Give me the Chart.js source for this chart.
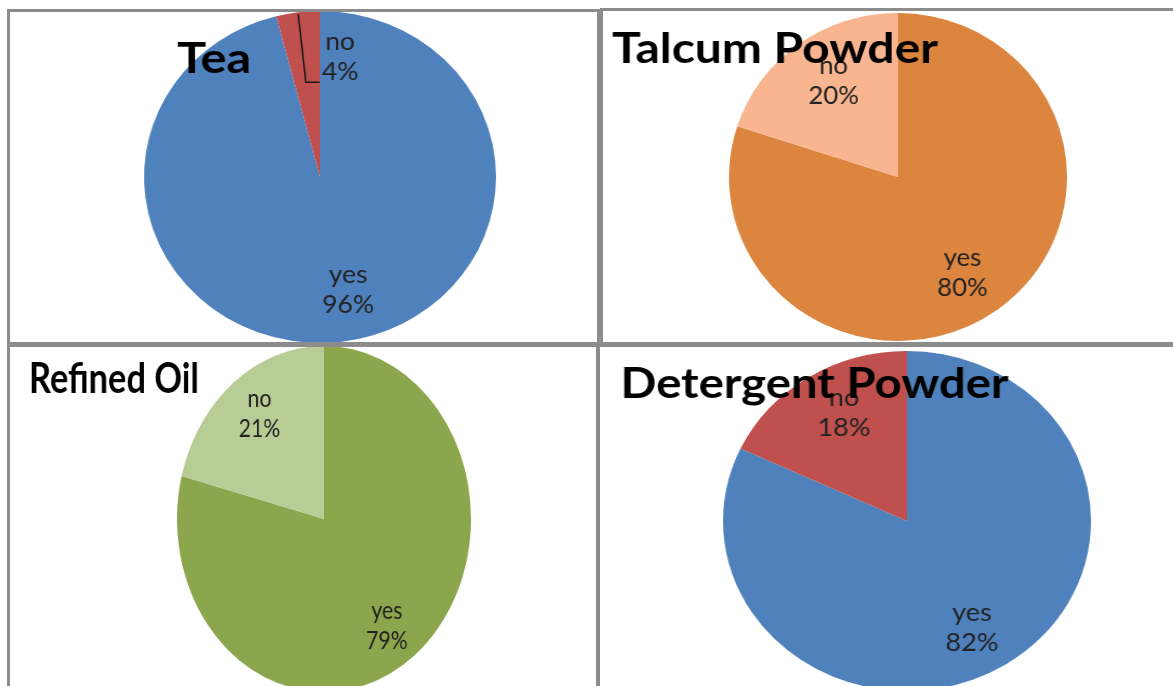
<!DOCTYPE html>
<html>
<head>
<meta charset="utf-8">
<title>Product survey pies</title>
<script src="https://cdn.jsdelivr.net/npm/chart.js@4.4.1/dist/chart.umd.min.js"></script>
<style>
    html, body { margin: 0; padding: 0; background: #fff; overflow: hidden; }
    body { width: 1173px; height: 686px; position: relative; }
    .panel { position: absolute; border: 3px solid #8c8c8c; box-sizing: border-box; z-index: 5; pointer-events: none; }
    .pie { position: absolute; width: 1200px; height: 700px; transform-origin: 600px 350px; }
</style>
</head>
<body>
<div class="panel" style="left:7px;top:9px;width:593px;height:336px"></div>
<div class="panel" style="left:600px;top:8px;width:600px;height:337px"></div>
<div class="panel" style="left:7px;top:344px;width:592px;height:400px"></div>
<div class="panel" style="left:597px;top:344px;width:600px;height:400px"></div>

<canvas id="teaChart" class="pie" width="1200" height="700"></canvas>
<canvas id="talcumChart" class="pie" width="1200" height="700"></canvas>
<canvas id="oilChart" class="pie" width="1200" height="700"></canvas>
<canvas id="detergentChart" class="pie" width="1200" height="700"></canvas>

<script>
// ---- data ----
const answers = ['yes', 'no'];
const teaValues = [96, 4];
const talcumValues = [80, 20];
const oilValues = [79, 21];
const detergentValues = [82, 18];
const productNames = ['Tea', 'Talcum Powder', 'Refined Oil', 'Detergent Powder'];

// labels "yes 96%" etc. and the big panel titles
const pieText = {
    id: 'pieText',
    afterDatasetsDraw(chart, args, opts) {
        const ctx = chart.ctx;
        const arcs = chart.getDatasetMeta(0).data;
        const values = chart.data.datasets[0].data;
        const total = values.reduce((a, b) => a + b, 0);

        ctx.save();
        ctx.font = '25px Lato';
        ctx.fillStyle = '#222';
        ctx.textAlign = 'center';
        ctx.textBaseline = 'middle';
        arcs.forEach((arc, i) => {
            const { x, y, startAngle, endAngle, outerRadius } = arc;
            const mid = (startAngle + endAngle) / 2;
            let ang = mid + ((opts.shift && opts.shift[i]) || 0) * Math.PI / 180;
            let frac = opts.radius;
            const spot = opts.outside && opts.outside.index === i ? opts.outside : null;
            if (spot) {
                ang = spot.angle * Math.PI / 180 - Math.PI / 2;
                frac = spot.radius;
            }
            const lx = x + Math.cos(ang) * outerRadius * frac;
            const ly = y + Math.sin(ang) * outerRadius * frac;
            const name = chart.data.labels[i];
            const pct = Math.round(values[i] / total * 100) + '%';
            ctx.fillText(name, lx, ly - 15);
            ctx.fillText(pct, lx, ly + 15);

            if (spot) {
                // leader line from the thin slice to its label
                const w = Math.max(ctx.measureText(name).width, ctx.measureText(pct).width);
                const left = lx - w / 2;
                ctx.beginPath();
                ctx.moveTo(x + Math.cos(mid) * outerRadius * 0.99, y + Math.sin(mid) * outerRadius * 0.99);
                ctx.lineTo(left - 15, ly + 25);
                ctx.lineTo(left - 2, ly + 25);
                ctx.strokeStyle = '#1a1a1a';
                ctx.lineWidth = 1.5;
                ctx.stroke();
            }
        });

        // title, given in page coordinates
        const t = opts.title;
        const s = opts.stretch;
        ctx.font = 'bold 42px Lato';
        ctx.fillStyle = '#000';
        ctx.textAlign = 'left';
        ctx.textBaseline = 'alphabetic';
        const measured = ctx.measureText(t.text).width;
        const fit = (t.width / s) / measured;
        ctx.translate(600 + (t.x - opts.cx) / s, 350 + (t.y - opts.cy));
        ctx.scale(fit, 1);
        ctx.fillText(t.text, 0, 0);
        ctx.restore();
    }
};

function makePie(id, values, colors, geo, title, extra) {
    const canvas = document.getElementById(id);
    const stretch = geo.rx / geo.ry;
    canvas.style.left = (geo.cx - 600) + 'px';
    canvas.style.top = (geo.cy - 350) + 'px';
    canvas.style.transform = 'scaleX(' + stretch + ')';

    const padX = 600 - geo.ry;
    const padY = 350 - geo.ry;

    return new Chart(canvas.getContext('2d'), {
        type: 'pie',
        data: {
            labels: answers,
            datasets: [{
                data: values,
                backgroundColor: colors,
                borderWidth: 0
            }]
        },
        options: {
            responsive: false,
            devicePixelRatio: 1,
            animation: false,
            events: [],
            layout: { padding: { left: padX, right: padX, top: padY, bottom: padY } },
            plugins: {
                legend: { display: false },
                tooltip: { enabled: false },
                pieText: Object.assign({
                    cx: geo.cx,
                    cy: geo.cy,
                    stretch: stretch,
                    radius: 0.7,
                    title: title
                }, extra || {})
            }
        },
        plugins: [pieText]
    });
}

makePie('teaChart', teaValues, ['#4F81BD', '#C0504D'],
    { cx: 320, cy: 177, rx: 176, ry: 166 },
    { text: productNames[0], x: 177, y: 73, width: 74 },
    { outside: { index: 1, angle: 9, radius: 0.73 }, shift: [-6, 0] });

makePie('talcumChart', talcumValues, ['#DC853E', '#F9B58F'],
    { cx: 898, cy: 177, rx: 169, ry: 164 },
    { text: productNames[1], x: 612, y: 63, width: 326 },
    { shift: [3, 3] });

makePie('oilChart', oilValues, ['#8BA64C', '#B8CC95'],
    { cx: 324, cy: 519, rx: 147, ry: 173 },
    { text: productNames[2], x: 29, y: 393, width: 170 },
    { radius: 0.75, shift: [3, 2] });

makePie('detergentChart', detergentValues, ['#4F81BD', '#C0504D'],
    { cx: 906.5, cy: 521, rx: 184, ry: 170 },
    { text: productNames[3], x: 620, y: 398, width: 388 },
    { radius: 0.72, shift: [3, 4] });
</script>
</body>
</html>
